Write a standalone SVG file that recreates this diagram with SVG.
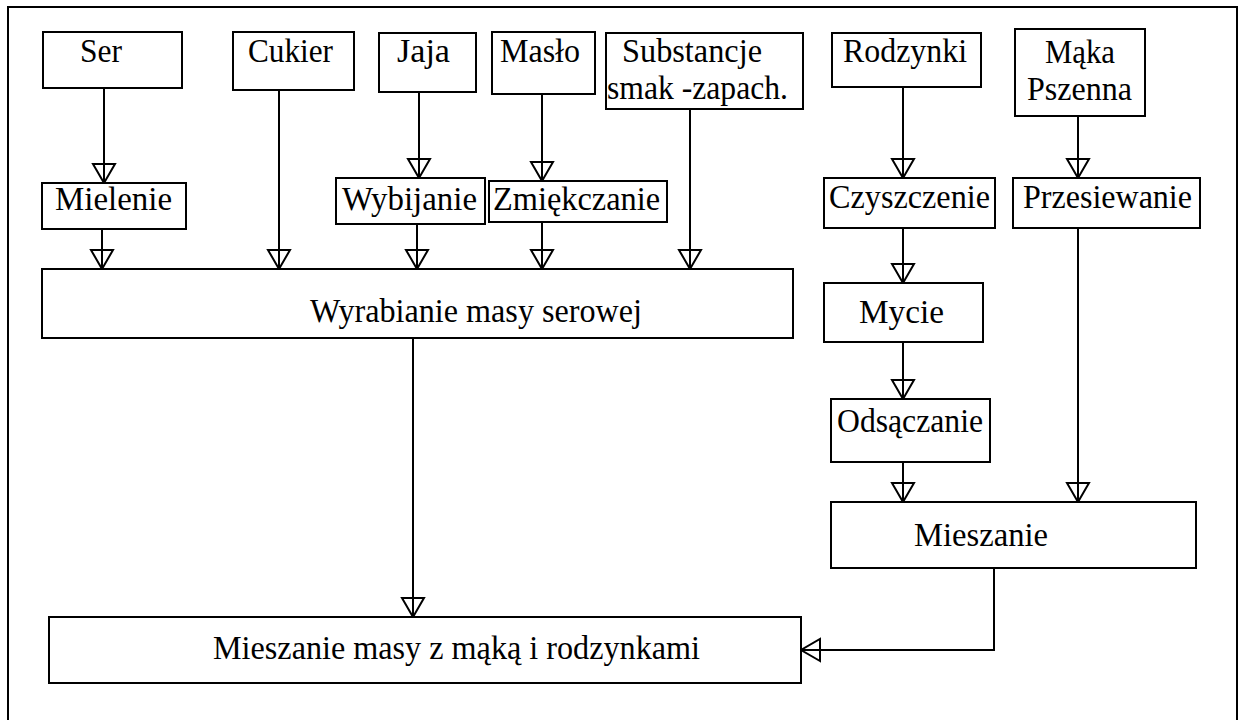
<svg xmlns="http://www.w3.org/2000/svg" width="1240" height="720" viewBox="0 0 1240 720">
<style>
.box{fill:#fff;stroke:#000;stroke-width:2}
.lbl{font-family:"Liberation Serif","Times New Roman",serif;font-size:34px;fill:#000}
.cn{fill:none;stroke:#000;stroke-width:2;marker-end:url(#tri)}
</style>
<defs>
<marker id="tri" markerUnits="userSpaceOnUse" markerWidth="26" markerHeight="28" viewBox="-3 -14 26 28" refX="19" refY="0" orient="auto" overflow="visible">
<path d="M0,-11 L19,0 L0,11 Z" fill="none" stroke="#000" stroke-width="2" stroke-linejoin="miter"/>
</marker>
</defs>
<rect x="0" y="0" width="1240" height="720" fill="#fff"/>
<rect x="8" y="7" width="1229" height="716" fill="#fff" stroke="#000" stroke-width="2"/>

<g id="connectors">
<path class="cn" d="M104,88 V183"/>
<path class="cn" d="M102,229 V269"/>
<path class="cn" d="M279,90 V269"/>
<path class="cn" d="M419,92 V178"/>
<path class="cn" d="M417,224 V269"/>
<path class="cn" d="M542,94 V181"/>
<path class="cn" d="M542,222 V269"/>
<path class="cn" d="M690,109 V269"/>
<path class="cn" d="M903,87 V178"/>
<path class="cn" d="M903,228 V283"/>
<path class="cn" d="M903,342 V399"/>
<path class="cn" d="M903,462 V502"/>
<path class="cn" d="M1078,116 V178"/>
<path class="cn" d="M1078,228 V502"/>
<path class="cn" d="M413,338 V617"/>
<path class="cn" d="M994,568 V650 H801"/>
</g>

<g id="ser"><rect class="box" x="43" y="32" width="139" height="56"/><text class="lbl" x="80" y="62" textLength="42" lengthAdjust="spacingAndGlyphs">Ser</text></g>
<g id="cukier"><rect class="box" x="233" y="32" width="121" height="58"/><text class="lbl" x="248" y="62" textLength="85" lengthAdjust="spacingAndGlyphs">Cukier</text></g>
<g id="jaja"><rect class="box" x="379" y="33" width="97" height="59"/><text class="lbl" x="397" y="62" textLength="53" lengthAdjust="spacingAndGlyphs">Jaja</text></g>
<g id="maslo"><rect class="box" x="492" y="32" width="103" height="62"/><text class="lbl" x="500" y="62" textLength="80" lengthAdjust="spacingAndGlyphs">Masło</text></g>
<g id="substancje"><rect class="box" x="606" y="33" width="197" height="76"/><text class="lbl" x="622" y="62" textLength="140" lengthAdjust="spacingAndGlyphs">Substancje</text><text class="lbl" x="607" y="99" textLength="181" lengthAdjust="spacingAndGlyphs">smak -zapach.</text></g>
<g id="rodzynki"><rect class="box" x="832" y="33" width="149" height="54"/><text class="lbl" x="843" y="62" textLength="124" lengthAdjust="spacingAndGlyphs">Rodzynki</text></g>
<g id="maka"><rect class="box" x="1015" y="29" width="130" height="87"/><text class="lbl" x="1045" y="63" textLength="70" lengthAdjust="spacingAndGlyphs">Mąka</text><text class="lbl" x="1027" y="100" textLength="105" lengthAdjust="spacingAndGlyphs">Pszenna</text></g>
<g id="mielenie"><rect class="box" x="42" y="183" width="144" height="46"/><text class="lbl" x="55" y="210" textLength="117" lengthAdjust="spacingAndGlyphs">Mielenie</text></g>
<g id="wybijanie"><rect class="box" x="336" y="178" width="149" height="46"/><text class="lbl" x="342" y="210" textLength="135" lengthAdjust="spacingAndGlyphs">Wybijanie</text></g>
<g id="zmiekczanie"><rect class="box" x="489" y="181" width="178" height="41"/><text class="lbl" x="493" y="210" textLength="167" lengthAdjust="spacingAndGlyphs">Zmiękczanie</text></g>
<g id="czyszczenie"><rect class="box" x="824" y="178" width="171" height="50"/><text class="lbl" x="829" y="208" textLength="161" lengthAdjust="spacingAndGlyphs">Czyszczenie</text></g>
<g id="przesiewanie"><rect class="box" x="1013" y="178" width="187" height="50"/><text class="lbl" x="1023" y="208" textLength="169" lengthAdjust="spacingAndGlyphs">Przesiewanie</text></g>
<g id="wyrabianie"><rect class="box" x="42" y="269" width="751" height="69"/><text class="lbl" x="310" y="322" textLength="332" lengthAdjust="spacingAndGlyphs">Wyrabianie masy serowej</text></g>
<g id="mycie"><rect class="box" x="824" y="283" width="159" height="59"/><text class="lbl" x="859" y="323" textLength="85" lengthAdjust="spacingAndGlyphs">Mycie</text></g>
<g id="odsaczanie"><rect class="box" x="831" y="399" width="159" height="63"/><text class="lbl" x="837" y="432" textLength="146" lengthAdjust="spacingAndGlyphs">Odsączanie</text></g>
<g id="mieszanie"><rect class="box" x="831" y="502" width="365" height="66"/><text class="lbl" x="914" y="546" textLength="134" lengthAdjust="spacingAndGlyphs">Mieszanie</text></g>
<g id="mieszanie-masy"><rect class="box" x="49" y="617" width="752" height="66"/><text class="lbl" x="213" y="659" textLength="487" lengthAdjust="spacingAndGlyphs">Mieszanie masy z mąką i rodzynkami</text></g>
</svg>
